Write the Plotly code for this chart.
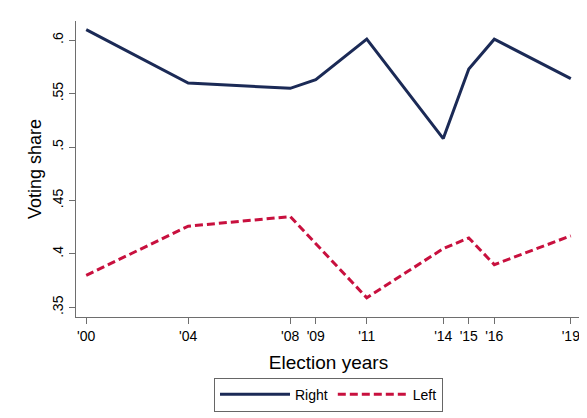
import plotly.graph_objects as go

years = [2000, 2004, 2008, 2009, 2011, 2014, 2015, 2016, 2019]
year_labels = ["'00", "'04", "'08", "'09", "'11", "'14", "'15", "'16", "'19"]
right_share = [0.610, 0.560, 0.555, 0.563, 0.601, 0.508, 0.573, 0.601, 0.564]
left_share = [0.380, 0.426, 0.435, 0.410, 0.359, 0.405, 0.415, 0.390, 0.417]
y_ticks = [0.35, 0.40, 0.45, 0.50, 0.55, 0.60]
y_tick_labels = [".35", ".4", ".45", ".5", ".55", ".6"]

NAVY = "#1b2a56"
RED = "#c8103e"
FONT = "Liberation Sans, Arial, sans-serif"

fig = go.Figure()
fig.add_trace(go.Scatter(x=years, y=right_share, mode="lines", name="Right",
                         line=dict(color=NAVY, width=3)))
fig.add_trace(go.Scatter(x=years, y=left_share, mode="lines", name="Left",
                         line=dict(color=RED, width=3, dash="8px,4px")))

# page body has an 8px default margin; size the figure to fit the 587x418 window
fig.update_layout(
    width=579, height=410,
    margin=dict(l=68, r=6, t=13, b=91),
    paper_bgcolor="white", plot_bgcolor="white",
    font=dict(family=FONT, color="#000000", size=13),
    showlegend=True,
    legend=dict(orientation="h", x=0.5, xanchor="center", y=-0.205, yanchor="top",
                bordercolor="#666666", borderwidth=1, font=dict(size=14),
                itemwidth=70, traceorder="normal", tracegroupgap=0),
    xaxis=dict(range=[1999.6, 2019.4], tickvals=years, ticktext=year_labels,
               automargin=False,
               showgrid=False, zeroline=False, showline=True, linecolor="#6e6e6e",
               linewidth=1, ticks="outside", ticklen=6, tickcolor="#6e6e6e",
               tickfont=dict(size=14),
               title=dict(text="Election years", font=dict(size=19), standoff=12)),
    yaxis=dict(range=[0.341, 0.618], tickvals=y_ticks, ticktext=y_tick_labels,
               automargin=False,
               showgrid=False, zeroline=False, showline=True, linecolor="#6e6e6e",
               linewidth=1, ticks="outside", ticklen=6, tickcolor="#6e6e6e",
               tickangle=-90, tickfont=dict(size=14),
               title=dict(text="Voting share", font=dict(size=18), standoff=4)),
)
fig.write_html("out.html")
